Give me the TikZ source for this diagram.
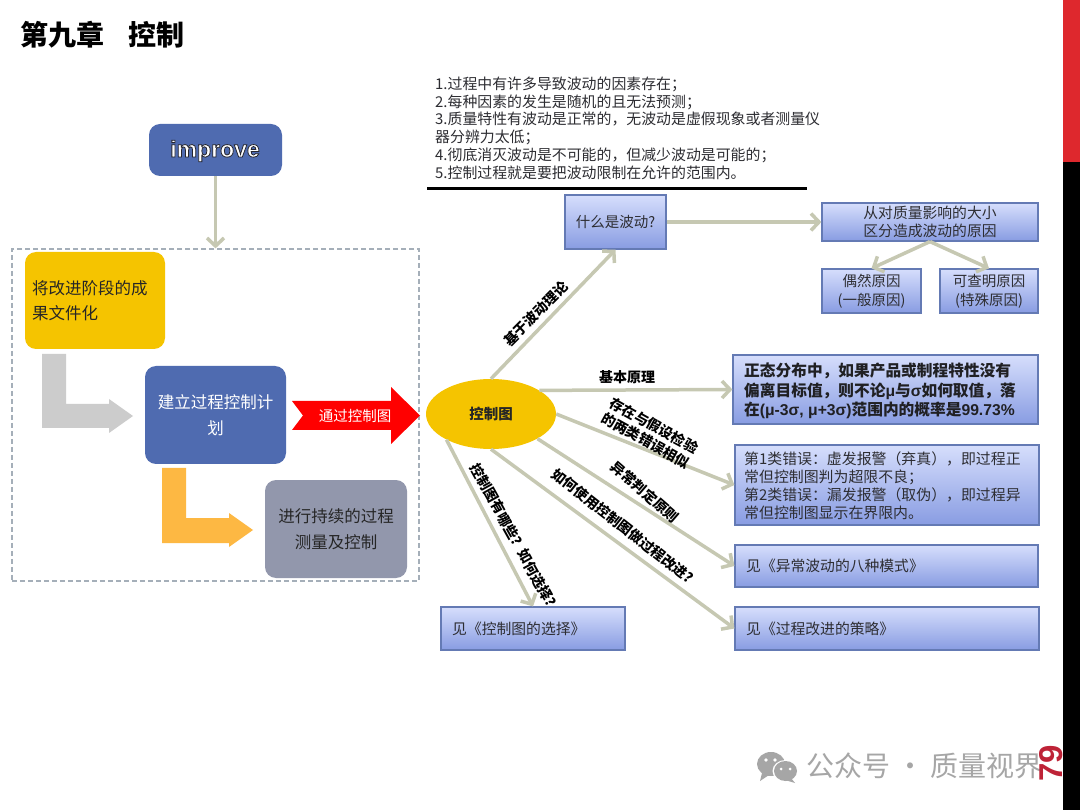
\documentclass[tikz,border=0pt]{standalone}
\usepackage{fontspec}
\setmainfont{Noto Sans CJK SC}
\newfontfamily\latinsans{Liberation Sans}
\usetikzlibrary{arrows.meta,shapes.geometric}
\definecolor{linkc}{RGB}{198,200,178}
\definecolor{boxedge}{RGB}{100,122,180}
\definecolor{boxtop}{RGB}{214,222,252}
\definecolor{boxbot}{RGB}{136,156,226}
\definecolor{bluefill}{RGB}{79,107,176}
\definecolor{goldfill}{RGB}{245,196,0}
\definecolor{slatefill}{RGB}{146,151,172}
\definecolor{txt}{RGB}{45,45,50}
\newcommand{\fs}[2]{\fontsize{#1}{#2}\selectfont}
\tikzset{
 x=1pt,y=-1pt,
 gbox/.style={draw=boxedge,line width=1.2pt,top color=boxtop,bottom color=boxbot,inner sep=0pt,text=txt,align=center},
 rbox/.style={rounded corners=11pt,inner sep=0pt,align=center},
 link/.style={draw=linkc,line width=3.5pt,-{Straight Barb[length=8pt,width=17pt,line width=3.5pt]}},
 boldlab/.style={font=\fs{14}{17}\bfseries,text=black,align=center,inner sep=0pt},
 ptext/.style={anchor=west,inner sep=0pt,align=left,text=txt},
}
\begin{document}
\begin{tikzpicture}
\useasboundingbox (0,0) rectangle (1080,810);
\fill[white] (0,0) rectangle (1080,810);
% title
\node[anchor=west,inner sep=0pt,font=\fs{28}{32}\bfseries,text=black] (title) at (20.5,35) {第九章\hspace{24pt}控制};
% text block
\node[ptext,anchor=north west,font=\fs{14.9}{17.8}] (notes) at (435,76.5) {1.过程中有许多导致波动的因素存在；\\2.每种因素的发生是随机的且无法预测；\\3.质量特性有波动是正常的，无波动是虚假现象或者测量仪\\器分辨力太低；\\4.彻底消灭波动是不可能的，但减少波动是可能的；\\5.控制过程就是要把波动限制在允许的范围内。};
\draw[line width=3.5pt,black] (427,188.5) -- (807,188.5);
% dashed frame
\node[draw={rgb,255:red,165;green,175;blue,185},dash pattern=on 5pt off 3pt,line width=1.2pt,minimum width=407pt,minimum height=332pt,inner sep=0pt] (frame) at (215.5,415) {};
% left boxes
\node[rbox,fill=bluefill,minimum width=133pt,minimum height=52pt] (improve) at (215.5,150) {};
\node[inner sep=0pt,font=\latinsans\fs{23}{26}\bfseries,text=white] (improvetxt) at (215,151) {\special{pdf:code 2 Tr 0.8 w 0.15 0.15 0.18 RG}improve\special{pdf:code 0 Tr 0 w}};
\node[rbox,fill=goldfill,minimum width=140pt,minimum height=97pt] (doc) at (95,300.5) {};
\node[ptext,font=\fs{16.5}{25},text=black!85] (doctxt) at (32,300.5) {将改进阶段的成\\果文件化};
\node[rbox,fill=bluefill,minimum width=141pt,minimum height=98pt,text=white,font=\fs{16.5}{26}] (plan) at (215.5,415) {建立过程控制计\\划};
\node[rbox,fill=slatefill,minimum width=142pt,minimum height=98pt,text=black!85,font=\fs{16.5}{25.5}] (measure) at (336,529) {进行持续的过程\\测量及控制};
% bent arrows
\fill[black!20] (42,354) -- (66,354) -- (66,404) -- (109,404) -- (109,399) -- (133,416) -- (109,433) -- (109,428) -- (42,428) -- cycle;
\fill[fill={rgb,255:red,253;green,184;blue,67}] (162,468) -- (186,468) -- (186,518) -- (229,518) -- (229,513) -- (253,530) -- (229,547) -- (229,543) -- (162,543) -- cycle;
% red arrow
\fill[red] (292,401) -- (391,401) -- (391,387) -- (420,415.5) -- (391,444) -- (391,430) -- (292,430) -- (303,415.5) -- cycle;
\node[inner sep=0pt,text=white,font=\fs{14.5}{17}] (viachart) at (355,415.5) {通过控制图};
% chart ellipse
\node[ellipse,fill=goldfill,minimum width=130pt,minimum height=70pt,inner sep=0pt,font=\fs{14.5}{17}\bfseries,text=black!85] (chart) at (491,414) {控制图};
% right boxes
\node[gbox,minimum width=101pt,minimum height=54pt,font=\fs{14.5}{18}] (what) at (615.5,222) {什么是波动?};
\node[gbox,minimum width=216pt,minimum height=38pt,font=\fs{14.8}{18}] (size) at (930,222) {从对质量影响的大小\\区分造成波动的原因};
\node[gbox,minimum width=99pt,minimum height=44pt,font=\fs{14.5}{19}] (chance) at (871.5,291) {偶然原因\\(一般原因)};
\node[gbox,minimum width=98pt,minimum height=44pt,font=\fs{14.5}{19}] (special) at (989,291) {可查明原因\\(特殊原因)};
\node[gbox,minimum width=305pt,minimum height=69pt] (principle) at (885.5,389.5) {};
\node[ptext,text=txt!70!black,font=\fs{15.7}{19.3}\bfseries] (principletxt) at (744,391) {正态分布中，如果产品或制程特性没有\\偏离目标值，则不论{\latinsans μ}与{\latinsans σ}如何取值，落\\在{\latinsans(μ-3σ, μ+3σ)}范围内的概率是{\latinsans 99.73\%}};
\node[gbox,minimum width=304pt,minimum height=80pt] (errors) at (887,485) {};
\node[ptext,font=\fs{14.9}{18}] (errorstxt) at (744,486) {第1类错误：虚发报警（弃真），即过程正\\常但控制图判为超限不良；\\第2类错误：漏发报警（取伪），即过程异\\常但控制图显示在界限内。};
\node[gbox,minimum width=303pt,minimum height=42pt] (modes) at (886.5,566) {};
\node[ptext,font=\fs{14.8}{18}] (modestxt) at (746,566) {见《异常波动的八种模式》};
\node[gbox,minimum width=304pt,minimum height=43pt] (strategy) at (887,628.5) {};
\node[ptext,font=\fs{14.8}{18}] (strategytxt) at (746,628.5) {见《过程改进的策略》};
\node[gbox,minimum width=184pt,minimum height=43pt] (select) at (533,628.5) {};
\node[ptext,font=\fs{14.8}{18}] (selecttxt) at (452,628.5) {见《控制图的选择》};
% connectors
\draw[link] (improve.south) -- (frame.north);
\draw[link] (chart.north) -- (what.south);
\draw[link] (what.east) -- (size.west);
\draw[link] (size.south) -- (chance.north);
\draw[link] (size.south) -- (special.north);
\draw[link] (chart.26) -- (principle.west);
\draw[link] (chart.east) -- (errors.west);
\draw[link] (chart.-28) -- (modes.west);
\draw[link] (chart.south) -- (strategy.west);
\draw[link] (chart.210.6) -- (select.north);
% connector labels
\node[boldlab,rotate=45] (l1) at (536,314) {基于波动理论};
\node[boldlab] (l2) at (627,377) {基本原理};
\node[boldlab,rotate=-29] (l3) at (650,433) {存在与假设检验\\的两类错误相似};
\node[boldlab,rotate=-41] (l4) at (645,492) {异常判定原则};
\node[boldlab,rotate=-38] (l5) at (623,526) {如何使用控制图做过程改进?};
\node[boldlab,rotate=-61] (l6) at (515,538) {控制图有哪些？如何选择？};
% watermark
\fill[black!35] (771,764) ellipse [x radius=14,y radius=12];
\fill[black!35] (762,773) -- (760,781) -- (769,775) -- cycle;
\fill[white] (785.5,771) ellipse [x radius=13,y radius=11];
\fill[black!35] (785.5,771) ellipse [x radius=11.5,y radius=10];
\fill[black!35] (791,778) -- (795,783) -- (785,780) -- cycle;
\fill[white] (766,760) circle (1.8) (775,760) circle (1.8) (781,769) circle (1.5) (790,769) circle (1.5);
\node[anchor=west,inner sep=0pt,text=black!35,font=\fs{28}{32}] (wm) at (806,766) {公众号 · 质量视界};
% page number and side bar
\node[rotate=90,inner sep=0pt,text={rgb,255:red,190;green,35;blue,55},font=\latinsans\fs{33}{36}\bfseries] (page) at (1051,763) {79};
\fill[black] (1063,162) rectangle (1080,810);
\fill[fill={rgb,255:red,222;green,40;blue,45}] (1063,0) rectangle (1080,162);
\end{tikzpicture}
\end{document}
